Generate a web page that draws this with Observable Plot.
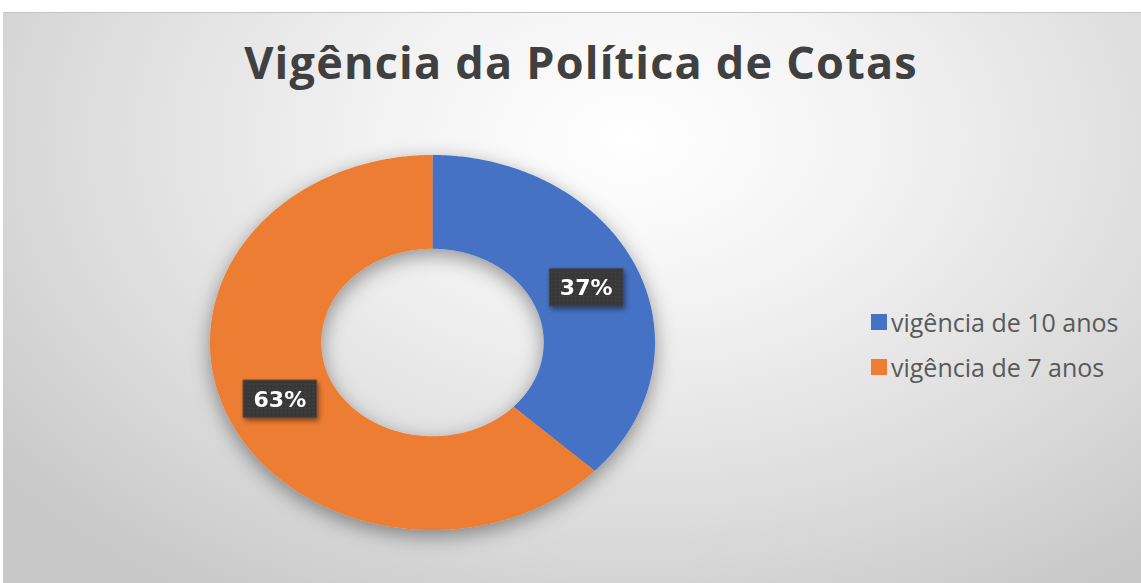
<!DOCTYPE html>
<html>
<head>
<meta charset="utf-8">
<script src="https://cdn.jsdelivr.net/npm/d3@7"></script>
<script src="https://cdn.jsdelivr.net/npm/@observablehq/plot@0.6"></script>
<style>
  html, body { margin: 0; padding: 0; background: #ffffff; }
  #chart { position: relative; width: 1141px; height: 583px; overflow: hidden; background: #ffffff; }
  #panel { position: absolute; left: 3px; top: 12px; width: 1138px; height: 571px;
    border-top: 1px solid #c4c4c4;
    background: radial-gradient(ellipse 70% 95% at 55% 22%, #ffffff 0%, #f3f3f3 30%, #dcdcdc 70%, #c8c8c8 100%); }
  #plot { position: absolute; left: 0; top: 0; }
  #legend { position: absolute; left: 871px; top: 299px; }
</style>
</head>
<body>
<div id="chart">
  <div id="panel"></div>
  <div id="plot"></div>
  <div id="legend"></div>
</div>
<script>
const title = "Vigência da Política de Cotas";
const categories = ["vigência de 10 anos", "vigência de 7 anos"];
const values = [37, 63];
const labels = ["37%", "63%"];
const colors = ["#4472C4", "#ED7D31"];

const innerRatio = 0.5;   // hole size relative to outer radius
const labelRatio = 0.75;  // labels sit in the middle of the ring

const total = d3.sum(values);
let acc = 0;
const slices = categories.map((cat, i) => {
  const start = acc / total;
  acc += values[i];
  const end = acc / total;
  const mid = (start + end) / 2 * 2 * Math.PI;
  return {cat, start, end, label: labels[i],
          lx: labelRatio * Math.sin(mid), ly: labelRatio * Math.cos(mid)};
});

// ring band of each slice, in unit data space (x right, y up, clockwise from top)
const ring = [];
for (const s of slices) {
  const n = Math.max(2, Math.ceil((s.end - s.start) * 720));
  for (let k = 0; k <= n; k++) {
    const a = 2 * Math.PI * (s.start + (s.end - s.start) * k / n);
    ring.push({cat: s.cat,
      ox: Math.sin(a), oy: Math.cos(a),
      ix: innerRatio * Math.sin(a), iy: innerRatio * Math.cos(a)});
  }
}

const boxSymbol = {draw(context) { context.rect(-37, -19, 74, 38); }};

const plot = Plot.plot({
  width: 1141,
  height: 583,
  margin: 0,
  style: {background: "transparent", overflow: "visible"},
  x: {domain: [-1, 1], range: [210, 655], axis: null},
  y: {domain: [-1, 1], range: [530, 155], axis: null},
  color: {domain: categories, range: colors},
  marks: [
    Plot.area(ring, {x1: "ox", y1: "oy", x2: "ix", y2: "iy", z: "cat", fill: "cat", stroke: "none"}),
    Plot.dot(slices, {x: "lx", y: "ly", symbol: boxSymbol, fill: "#3a3a3a", stroke: "none"}),
    Plot.text(slices, {x: "lx", y: "ly", text: "label", fill: "white", fontSize: 22, fontWeight: "bold",
      fontFamily: "DejaVu Sans", dy: 1}),
    Plot.text([title], {frameAnchor: "top", dx: 10, dy: 78, lineAnchor: "bottom", text: d => d,
      fontSize: 45, fontWeight: 700, fontFamily: "Open Sans", fill: "#404040"})
  ]
});

// effects: drop shadows and dotted texture on label boxes
const svg = d3.select(plot);
const defs = svg.insert("defs", ":first-child");
const f1 = defs.append("filter").attr("id", "ringShadow").attr("x", "-20%").attr("y", "-20%").attr("width", "140%").attr("height", "140%");
f1.append("feDropShadow").attr("dx", 0).attr("dy", 6).attr("stdDeviation", 10).attr("flood-color", "#000").attr("flood-opacity", 0.4);
const f2 = defs.append("filter").attr("id", "boxShadow").attr("x", "-30%").attr("y", "-30%").attr("width", "160%").attr("height", "160%");
f2.append("feDropShadow").attr("dx", 2).attr("dy", 3).attr("stdDeviation", 2.5).attr("flood-color", "#000").attr("flood-opacity", 0.45);
const pat = defs.append("pattern").attr("id", "dots").attr("width", 4).attr("height", 4).attr("patternUnits", "userSpaceOnUse");
pat.append("rect").attr("width", 4).attr("height", 4).attr("fill", "#383838");
pat.append("rect").attr("x", 1).attr("y", 1).attr("width", 1).attr("height", 1).attr("fill", "#555555");
svg.select('g[aria-label="area"]').attr("filter", "url(#ringShadow)");
svg.select('g[aria-label="dot"]').attr("filter", "url(#boxShadow)").selectAll("path").attr("fill", "url(#dots)");
svg.selectAll('g[aria-label="text"]').filter((d, i, n) => i === 1).style("letter-spacing", "1.2px");

document.getElementById("plot").append(plot);

const legend = Plot.legend({
  color: {domain: categories, range: colors},
  legend: "swatches",
  columns: 1,
  swatchSize: 16
});
legend.style.fontFamily = "'Open Sans', sans-serif";
legend.style.fontSize = "25px";
legend.style.color = "#595959";
legend.style.margin = "0";
legend.style.background = "transparent";
legend.querySelectorAll("svg").forEach(s => {
  s.style.marginRight = "4px";
  const row = s.parentElement;
  row.style.height = "45px";
  row.style.padding = "0";
  row.style.margin = "0";
  row.style.display = "flex";
  row.style.alignItems = "center";
});
document.getElementById("legend").append(legend);
</script>
</body>
</html>
